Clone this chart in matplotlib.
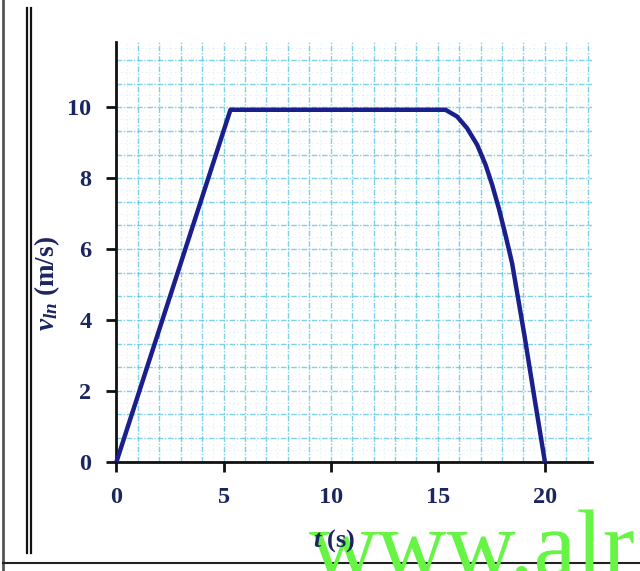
import matplotlib.pyplot as plt
from matplotlib.ticker import MultipleLocator

# values
t_vals = [0, 5.32, 15.36, 15.9, 16.37, 16.84, 17.23, 17.54, 17.85, 18.16, 18.47, 19.05, 19.5, 20.0]
v_vals = [0, 9.93, 9.93, 9.74, 9.41, 8.94, 8.38, 7.81, 7.15, 6.40, 5.60, 3.55, 1.85, 0]

x_ticks = [0, 5, 10, 15, 20]
y_ticks = [0, 2, 4, 6, 8, 10]

LINE_COLOR = '#1b1f8c'
TEXT_COLOR = '#1b2660'
GRID_COLOR = '#5cc6e4'
SERIF = ['Liberation Serif', 'DejaVu Serif']

plt.rcParams['mathtext.fontset'] = 'custom'
plt.rcParams['mathtext.rm'] = 'Liberation Serif:bold'
plt.rcParams['mathtext.bf'] = 'Liberation Serif:bold'
plt.rcParams['mathtext.it'] = 'Liberation Serif:bold:italic'

fig = plt.figure(figsize=(6.4, 5.71), dpi=100)
ax = fig.add_axes([0.182, 0.1914, 0.743, 0.7355])

ax.set_xlim(0, 22.2)
ax.set_ylim(0, 11.85)

# graph paper grid
ax.xaxis.set_major_locator(MultipleLocator(1))
ax.xaxis.set_minor_locator(MultipleLocator(0.5))
ax.yaxis.set_major_locator(MultipleLocator(2 / 3))
ax.yaxis.set_minor_locator(MultipleLocator(1 / 3))
ax.grid(which='major', color=GRID_COLOR, lw=1.0, ls=(0, (4, 1.2, 1, 1.2)), alpha=0.8)
ax.grid(which='minor', color=GRID_COLOR, lw=0.6, ls=(0, (2, 3)), alpha=0.22)
ax.tick_params(which='both', length=0, labelleft=False, labelbottom=False)

ax.plot(t_vals, v_vals, color=LINE_COLOR, lw=3.2, solid_joinstyle='round',
        solid_capstyle='round', zorder=5, clip_on=False)

for s in ['top', 'right']:
    ax.spines[s].set_visible(False)
for s in ['left', 'bottom']:
    ax.spines[s].set_linewidth(2)
    ax.spines[s].set_color('#111111')

# real tick marks + labels on a second axes so the grid stays independent
ax2 = fig.add_axes(ax.get_position(), frameon=False)
ax2.set_xlim(ax.get_xlim())
ax2.set_ylim(ax.get_ylim())
ax2.set_xticks(x_ticks)
ax2.set_yticks(y_ticks)
ax2.set_xticklabels([str(x) for x in x_ticks])
ax2.set_yticklabels([str(y) for y in y_ticks])
ax2.tick_params(direction='out', length=7, width=2, color='#111111', pad=11,
                labelsize=17.5, labelcolor=TEXT_COLOR)
for lab in ax2.get_xticklabels() + ax2.get_yticklabels():
    lab.set_family(SERIF)
    lab.set_fontweight('bold')
ax2.patch.set_visible(False)

fig.text(0.073, 0.504, r'$v_{ln}$ (m/s)', rotation=90,
         ha='center', va='center', fontsize=19.5, color=TEXT_COLOR,
         family=SERIF, fontweight='bold')

# scan frame lines
fig.add_artist(plt.Line2D([0.005, 0.005], [0.0, 1.0], color='#555555', lw=2))
fig.add_artist(plt.Line2D([0.005, 1.0], [0.014, 0.014], color='#222222', lw=1.5))
fig.add_artist(plt.Line2D([0.0415, 0.0415], [0.031, 0.986], color='#111111', lw=1.6))
fig.add_artist(plt.Line2D([0.049, 0.049], [0.031, 0.986], color='#111111', lw=1.6))

# watermark, with the x label printed over it as in the scan
fig.text(0.482, -0.008, 'www.alr', fontsize=69, color='#66f545',
         family=SERIF, ha='left', va='baseline', zorder=10)
fig.text(0.522, 0.0525, r'$t$ (s)', ha='center', va='center',
         fontsize=19, color=TEXT_COLOR, family=SERIF, fontweight='bold',
         zorder=11)

fig.savefig('out.png', dpi=100)
